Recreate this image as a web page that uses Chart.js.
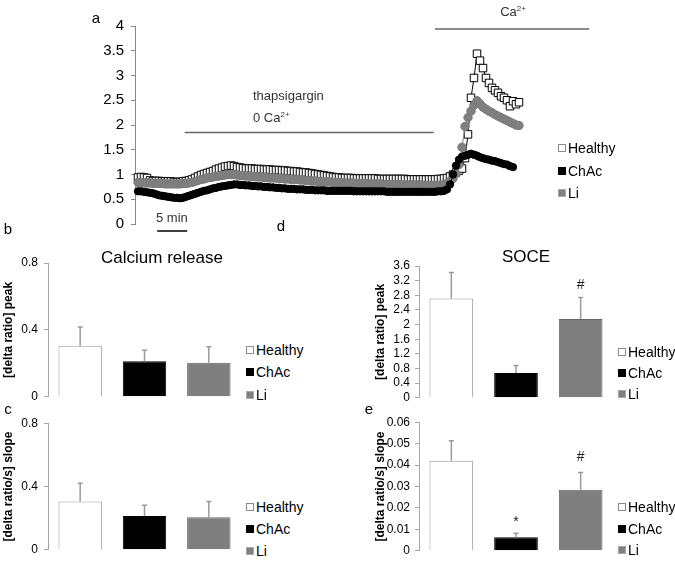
<!DOCTYPE html>
<html>
<head>
<meta charset="utf-8">
<script src="https://cdn.jsdelivr.net/npm/chart.js@4"></script>
<style>
body { margin: 0; background: #fff; }
#fig { position: relative; width: 675px; height: 563px; overflow: hidden; font-family: "Liberation Sans", Arial, sans-serif; color: #000; }
#fig canvas { position: absolute; }
.t { position: absolute; white-space: nowrap; line-height: 1; }
.c { transform: translate(-50%, -50%); }
.l { transform: translateY(-50%); }
.lg { position: absolute; display: flex; align-items: center; transform: translateY(-50%); font-size: 14px; white-space: nowrap; line-height: 1; }
.sw { display: inline-block; width: 8px; height: 8px; box-sizing: border-box; margin-right: 2px; }
sup { font-size: 8px; vertical-align: 5px; }
</style>
</head>
<body>
<div id="fig">
  <canvas id="trace" width="675" height="240" style="left:0;top:0"></canvas>
  <canvas id="relPeak" width="245" height="170" style="left:0;top:240px"></canvas>
  <canvas id="relSlope" width="245" height="153" style="left:0;top:410px"></canvas>
  <canvas id="socePeak" width="290" height="170" style="left:330px;top:240px"></canvas>
  <canvas id="soceSlope" width="290" height="153" style="left:330px;top:410px"></canvas>

  <div class="t c" style="left:96px;top:17px;font-size:15px">a</div>
  <div class="t c" style="left:8px;top:228px;font-size:15px">b</div>
  <div class="t c" style="left:281px;top:225px;font-size:15px">d</div>
  <div class="t c" style="left:8px;top:408px;font-size:15px">c</div>
  <div class="t c" style="left:369px;top:408px;font-size:15px">e</div>

  <div class="t l" style="left:253px;top:95px;font-size:13px;color:#333">thapsigargin</div>
  <div class="t l" style="left:253px;top:117px;font-size:13px;color:#333">0 Ca<sup>2+</sup></div>
  <div class="t c" style="left:513px;top:11px;font-size:13px;color:#333">Ca<sup>2+</sup></div>
  <div class="t l" style="left:156px;top:217px;font-size:13px;color:#333">5 min</div>

  <div class="t c" style="left:162px;top:257px;font-size:17px">Calcium release</div>
  <div class="t c" style="left:526px;top:256px;font-size:17px">SOCE</div>
</div>
<script>
// ---- data ----
const groups = ['Healthy', 'ChAc', 'Li'];

// panel a: fura-2 ratio traces, one sample every 0.5 min
const sampleMin = 0.5;
const healthy = [
  0.94, 0.95, 0.94, 0.93,
  0.88, 0.87, 0.87, 0.87, 0.86, 0.86, 0.86, 0.86, 0.85, 0.85, 0.85, 0.86, 0.87,
  0.88, 0.90, 0.93, 0.96, 0.99, 1.01, 1.03, 1.05, 1.07, 1.10, 1.12, 1.14, 1.16, 1.17, 1.18,
  1.17, 1.15, 1.14, 1.13, 1.12, 1.12, 1.12, 1.11, 1.11, 1.11, 1.10, 1.10, 1.10, 1.09, 1.09, 1.09, 1.08, 1.08,
  1.07, 1.07, 1.06, 1.06, 1.05, 1.04, 1.04, 1.03, 1.02, 1.01, 1.00, 0.99, 0.98, 0.97, 0.96, 0.95, 0.94, 0.94,
  0.93, 0.93, 0.93, 0.93, 0.92, 0.92, 0.92, 0.92, 0.92, 0.92, 0.92, 0.92, 0.91, 0.91, 0.91, 0.91, 0.91, 0.91,
  0.91, 0.91, 0.91, 0.91, 0.90, 0.90, 0.90, 0.90, 0.90, 0.90, 0.90, 0.90, 0.90, 0.90, 0.91, 0.91, 0.92, 0.93,
  0.96, 1.00, 1.04, 1.08, 1.12, 1.33, 1.81, 2.55, 2.95, 3.44, 3.30, 3.15, 2.95, 2.85, 2.75, 2.70, 2.65, 2.58,
  2.55, 2.50, 2.38, 2.48, 2.42, 2.46
];
const li = [
  0.84, 0.84, 0.83, 0.83,
  0.83, 0.82, 0.82, 0.82, 0.82, 0.81, 0.81, 0.81, 0.81, 0.81, 0.81, 0.82, 0.82,
  0.83, 0.84, 0.86, 0.88, 0.90, 0.91, 0.93, 0.94, 0.95, 0.96, 0.97, 0.98, 0.99, 1.00, 1.00,
  1.00, 0.99, 0.98, 0.98, 0.97, 0.97, 0.96, 0.96, 0.95, 0.95, 0.94, 0.94, 0.93, 0.93, 0.93, 0.92, 0.92, 0.91,
  0.91, 0.90, 0.90, 0.90, 0.89, 0.89, 0.88, 0.88, 0.87, 0.87, 0.86, 0.86, 0.85, 0.85, 0.85, 0.84, 0.84, 0.84,
  0.83, 0.83, 0.83, 0.83, 0.82, 0.82, 0.82, 0.82, 0.82, 0.81, 0.81, 0.81, 0.81, 0.81, 0.80, 0.80, 0.80, 0.80,
  0.80, 0.80, 0.79, 0.79, 0.79, 0.79, 0.79, 0.79, 0.79, 0.78, 0.78, 0.78, 0.78, 0.78, 0.78, 0.79, 0.80, 0.82,
  0.86, 0.92, 1.02, 1.20, 1.55, 1.97, 2.15, 2.28, 2.40, 2.49, 2.43, 2.36, 2.32, 2.28, 2.25, 2.21, 2.18, 2.15,
  2.12, 2.09, 2.06, 2.03, 2.00, 1.99
];
const chac = [
  0.66, 0.66, 0.65, 0.64,
  0.63, 0.62, 0.60, 0.58, 0.57, 0.56, 0.55, 0.54, 0.53, 0.53, 0.52, 0.53, 0.55,
  0.57, 0.59, 0.61, 0.63, 0.65, 0.67, 0.68, 0.70, 0.72, 0.73, 0.75, 0.76, 0.77, 0.78, 0.79,
  0.80, 0.80, 0.79, 0.79, 0.78, 0.78, 0.77, 0.77, 0.76, 0.76, 0.75, 0.75, 0.74, 0.74, 0.73, 0.73, 0.72, 0.72,
  0.71, 0.71, 0.71, 0.70, 0.70, 0.70, 0.69, 0.69, 0.69, 0.68, 0.68, 0.68, 0.68, 0.67, 0.67, 0.67, 0.67, 0.67,
  0.67, 0.67, 0.67, 0.67, 0.66, 0.66, 0.66, 0.66, 0.66, 0.66, 0.66, 0.66, 0.66, 0.66, 0.66, 0.65, 0.65, 0.65,
  0.65, 0.65, 0.65, 0.65, 0.65, 0.65, 0.65, 0.65, 0.65, 0.65, 0.65, 0.65, 0.65, 0.65, 0.66, 0.66,
  0.67, 0.70, 0.80, 1.00, 1.18, 1.30, 1.36, 1.38, 1.40, 1.42, 1.40, 1.38, 1.35, 1.33, 1.31, 1.30, 1.28, 1.27,
  1.25, 1.23, 1.21, 1.20, 1.17, 1.15
];
const time = healthy.map((_, i) => i * sampleMin);

// treatment bars and scale bar (minutes / ratio units)
const thapsiSpan = [7.8, 49.3], thapsiLevel = 1.85;
const calciumSpan = [49.5, 75.2], calciumLevel = 3.94;
const scaleBarMin = [3.2, 8.2];

// panels b-e: mean and SEM
const releasePeak = [0.305, 0.212, 0.203];
const releasePeakErr = [0.112, 0.066, 0.097];
const releaseSlope = [0.305, 0.213, 0.206];
const releaseSlopeErr = [0.115, 0.069, 0.099];
const socePeak = [2.71, 0.68, 2.15];
const socePeakErr = [0.71, 0.2, 0.59];
const socePeakMarks = ['', '', '#'];
const soceSlope = [0.042, 0.0063, 0.0285];
const soceSlopeErr = [0.0094, 0.0019, 0.008];
const soceSlopeMarks = ['', '*', '#'];

// ---- setup ----
Chart.defaults.font.family = '"Liberation Sans", Arial, sans-serif';
Chart.defaults.color = '#000';
Chart.defaults.animation = false;
Chart.defaults.plugins.legend.display = false;
Chart.defaults.plugins.tooltip.enabled = false;

const fig = document.getElementById('fig');
const swatches = [
  { bg: '#fff', bd: '#8c8c8c' },
  { bg: '#000', bd: '#000' },
  { bg: '#808080', bd: '#a8a8a8' }
];
function addLegend(x, y, gap) {
  groups.forEach((g, i) => {
    const row = document.createElement('div');
    row.className = 'lg';
    row.style.left = x + 'px';
    row.style.top = (y + i * gap) + 'px';
    row.innerHTML = `<span class="sw" style="background:${swatches[i].bg};border:1px solid ${swatches[i].bd}"></span>${g}`;
    fig.appendChild(row);
  });
}
const plainNum = v => String(+v.toFixed(3));

// panel a
const traceMarks = {
  id: 'traceMarks',
  afterDraw(chart) {
    const { ctx, scales: { x, y }, chartArea } = chart;
    ctx.save();
    ctx.strokeStyle = '#666';
    ctx.lineWidth = 1.5;
    ctx.beginPath();
    ctx.moveTo(x.getPixelForValue(thapsiSpan[0]), y.getPixelForValue(thapsiLevel));
    ctx.lineTo(x.getPixelForValue(thapsiSpan[1]), y.getPixelForValue(thapsiLevel));
    ctx.moveTo(x.getPixelForValue(calciumSpan[0]), y.getPixelForValue(calciumLevel));
    ctx.lineTo(x.getPixelForValue(calciumSpan[1]), y.getPixelForValue(calciumLevel));
    ctx.stroke();
    ctx.strokeStyle = '#000';
    const yb = chartArea.bottom + 7;
    ctx.beginPath();
    ctx.moveTo(x.getPixelForValue(scaleBarMin[0]), yb);
    ctx.lineTo(x.getPixelForValue(scaleBarMin[1]), yb);
    ctx.stroke();
    ctx.restore();
  }
};

function series(label, vals, style) {
  return Object.assign({
    label,
    data: vals.map((v, i) => ({ x: time[i], y: v })),
    borderWidth: 1,
    pointBorderWidth: 1,
    clip: false
  }, style);
}

new Chart(document.getElementById('trace'), {
  type: 'line',
  data: {
    datasets: [
      series('Healthy', healthy, { order: 3, borderColor: '#000', pointStyle: 'rect', pointRadius: 5.3,
        pointBackgroundColor: '#fff', pointBorderColor: '#000' }),
      series('Li', li, { order: 2, borderColor: '#808080', pointRadius: 4.2,
        pointBackgroundColor: '#808080', pointBorderColor: '#7a7a7a' }),
      series('ChAc', chac, { order: 1, borderColor: '#000', pointRadius: 3.7,
        pointBackgroundColor: '#000', pointBorderColor: '#000' })
    ]
  },
  options: {
    responsive: false,
    layout: { padding: { left: 0, top: 26, right: 75, bottom: 15 } },
    scales: {
      x: { type: 'linear', display: false, min: -0.5, max: 77 },
      y: {
        min: 0, max: 4,
        ticks: { stepSize: 0.5, padding: 7, autoSkip: false, font: { size: 15 }, callback: plainNum },
        grid: { drawOnChartArea: false, tickLength: 4, color: '#888' },
        border: { color: '#888' },
        afterFit(s) { s.width = 135; }
      }
    }
  },
  plugins: [traceMarks]
});
addLegend(558, 148, 22.5);

// panels b-e
function barPanel(id, vals, errs, marks, yMax, yStep, yTitle, opt) {
  const errorBars = {
    id: 'errorBars',
    afterDatasetsDraw(chart) {
      const { ctx } = chart;
      const ys = chart.scales.y;
      ctx.save();
      ctx.strokeStyle = '#9a9a9a';
      ctx.lineWidth = 1.5;
      ctx.fillStyle = '#222';
      ctx.font = '14px "Liberation Sans", Arial, sans-serif';
      ctx.textAlign = 'center';
      ctx.textBaseline = 'middle';
      chart.getDatasetMeta(0).data.forEach((bar, i) => {
        const top = ys.getPixelForValue(vals[i] + errs[i]);
        ctx.beginPath();
        ctx.moveTo(bar.x, bar.y);
        ctx.lineTo(bar.x, top);
        ctx.moveTo(bar.x - 2.5, top);
        ctx.lineTo(bar.x + 2.5, top);
        ctx.stroke();
        if (marks && marks[i]) {
          const lift = marks[i] === '*' ? opt.markGap - 4 : opt.markGap;
          ctx.fillText(marks[i], bar.x, top - lift);
        }
      });
      ctx.restore();
    }
  };
  return new Chart(document.getElementById(id), {
    type: 'bar',
    data: {
      labels: groups,
      datasets: [{
        data: vals,
        backgroundColor: ['#fff', '#000', '#7f7f7f'],
        borderColor: ['#9a9a9a', '#000', '#666'],
        borderWidth: 1,
        categoryPercentage: 1,
        barPercentage: 0.675
      }]
    },
    options: {
      responsive: false,
      layout: { padding: opt.padding },
      scales: {
        x: { display: false },
        y: {
          min: 0, max: yMax,
          ticks: { stepSize: yStep, padding: opt.tickPad, autoSkip: false, font: { size: 12 },
            callback: plainNum },
          grid: { drawOnChartArea: false, tickLength: 4, color: '#a6a6a6' },
          border: { color: '#a6a6a6' },
          title: { display: true, text: yTitle, font: { size: 12, weight: 'bold' },
            padding: { top: opt.titlePad, bottom: 0 } },
          afterFit(s) { s.width = opt.axisW; }
        }
      }
    },
    plugins: [errorBars]
  });
}

barPanel('relPeak', releasePeak, releasePeakErr, null, 0.8, 0.4, '[delta ratio] peak',
  { padding: { left: 0, top: 23, right: 4, bottom: 9 }, axisW: 48, tickPad: 6, titlePad: 1, markGap: 12 });
barPanel('relSlope', releaseSlope, releaseSlopeErr, null, 0.8, 0.4, '[delta ratio/s] slope',
  { padding: { left: 0, top: 9, right: 4, bottom: 5 }, axisW: 48, tickPad: 6, titlePad: 1, markGap: 12 });
barPanel('socePeak', socePeak, socePeakErr, socePeakMarks, 3.6, 0.4, '[delta ratio] peak',
  { padding: { left: 0, top: 26, right: 7, bottom: 7 }, axisW: 89, tickPad: 5, titlePad: 43, markGap: 12 });
barPanel('soceSlope', soceSlope, soceSlopeErr, soceSlopeMarks, 0.06, 0.01, '[delta ratio/s] slope',
  { padding: { left: 0, top: 11, right: 7, bottom: 5 }, axisW: 89, tickPad: 5, titlePad: 43, markGap: 15 });

addLegend(246, 350, 22.3);
addLegend(246, 507, 22);
addLegend(618, 352, 21.2);
addLegend(618, 507, 21.7);
</script>
</body>
</html>
